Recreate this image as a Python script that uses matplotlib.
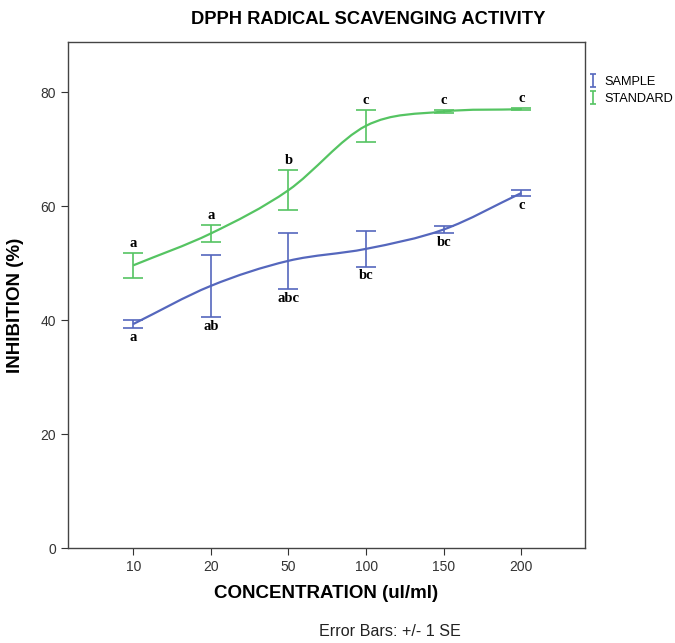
import numpy as np
import matplotlib.pyplot as plt
from matplotlib.path import Path
from matplotlib.patches import PathPatch

# data
concentrations = ["10", "20", "50", "100", "150", "200"]
sample_mean = [39.3, 46.0, 50.4, 52.5, 55.9, 62.3]
sample_se = [0.7, 5.5, 4.9, 3.1, 0.6, 0.5]
standard_mean = [49.6, 55.2, 62.8, 74.1, 76.6, 77.0]
standard_se = [2.2, 1.5, 3.5, 2.8, 0.3, 0.2]
sample_letters = ["a", "ab", "abc", "bc", "bc", "c"]
standard_letters = ["a", "a", "b", "c", "c", "c"]

BLUE = "#5567bd"
GREEN = "#55c462"

plt.rcParams['font.family'] = ['Liberation Sans', 'DejaVu Sans']


def smooth_path(x, y):
    """Bezier path through the points (Catmull-Rom style tangents)"""
    pts = np.column_stack([x, y]).astype(float)
    n = len(pts)
    tang = np.zeros_like(pts)
    for i in range(n):
        if i == 0:
            tang[i] = pts[1] - pts[0]
        elif i == n - 1:
            tang[i] = pts[-1] - pts[-2]
        else:
            tang[i] = (pts[i + 1] - pts[i - 1]) / 2
    verts = [pts[0]]
    codes = [Path.MOVETO]
    for i in range(n - 1):
        verts += [pts[i] + tang[i] / 3, pts[i + 1] - tang[i + 1] / 3, pts[i + 1]]
        codes += [Path.CURVE4] * 3
    return Path(verts, codes)


fig = plt.figure(figsize=(6.75, 6.43), dpi=100)
ax = fig.add_axes([68 / 675, (643 - 548) / 643, 517 / 675, 506 / 643])

x = np.arange(len(concentrations))

handles = []
for mean, se, col, lab in [(sample_mean, sample_se, BLUE, "SAMPLE"),
                           (standard_mean, standard_se, GREEN, "STANDARD")]:
    ax.add_patch(PathPatch(smooth_path(x, mean), facecolor='none', edgecolor=col, lw=1.6))
    ax.errorbar(x, mean, yerr=se, fmt='none', ecolor=col, elinewidth=1.2,
                capsize=7, capthick=1.2)
    # small proxy for the legend icon
    h = ax.errorbar([np.nan], [np.nan], yerr=[1], fmt='none', ecolor=col,
                    elinewidth=1.2, capsize=2.5, capthick=1.2, label=lab)
    handles.append(h)

# significance letters: sample below bar, standard above
for i in x:
    ax.annotate(sample_letters[i], (i, sample_mean[i] - sample_se[i]), xytext=(0, -2),
                textcoords='offset points', ha='center', va='top',
                family='Liberation Serif', weight='bold', fontsize=10.5)
    ax.annotate(standard_letters[i], (i, standard_mean[i] + standard_se[i]), xytext=(0, 2),
                textcoords='offset points', ha='center', va='bottom',
                family='Liberation Serif', weight='bold', fontsize=10.5)

ax.set_xlim(-0.84, 5.82)
ax.set_ylim(0, 88.8)
ax.set_xticks(x)
ax.set_xticklabels(concentrations)
ax.set_yticks([0, 20, 40, 60, 80])
ax.tick_params(direction='out', length=5, labelsize=10, colors='#333333', labelcolor='#333333')
for sp in ax.spines.values():
    sp.set_color('#444444')
    sp.set_linewidth(1.0)

ax.set_xlabel("CONCENTRATION (ul/ml)", fontsize=13.5, weight='bold')
ax.xaxis.set_label_coords(0.5, (548 - 585) / 506)
ax.set_ylabel("INHIBITION (%)", fontsize=13.5, weight='bold')
ax.yaxis.set_label_coords((24 - 68) / 517, 0.48)

fig.text(368 / 675, 1 - 20 / 643, "DPPH RADICAL SCAVENGING ACTIVITY", ha='center', va='center',
         fontsize=13.2, weight='bold')
fig.text(390 / 675, 1 - 632 / 643, "Error Bars: +/- 1 SE", ha='center', va='center',
         fontsize=11.6, color='#222222')

ax.legend(handles=handles, loc='upper left', bbox_to_anchor=(590 / 675, 1 - 76 / 643),
          bbox_transform=fig.transFigure, frameon=False, fontsize=9.2,
          handlelength=0.5, handletextpad=0.6, labelspacing=0.4, borderaxespad=0, borderpad=0)

fig.savefig("out.png", dpi=100)
